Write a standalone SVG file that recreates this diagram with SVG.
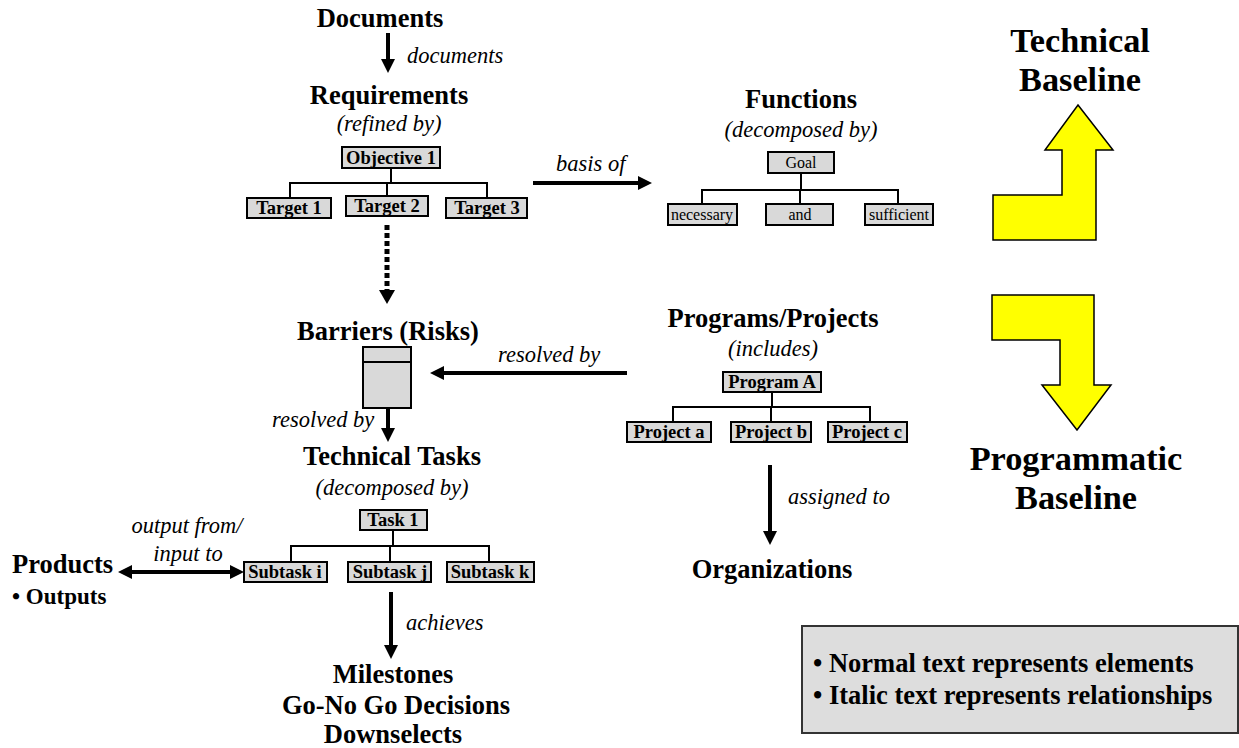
<svg xmlns="http://www.w3.org/2000/svg" width="1239" height="748" viewBox="0 0 1239 748">
<defs>
<style>
.h{font-family:"Liberation Serif","Times New Roman",serif;font-weight:bold;font-size:26.5px;fill:#000}
.big{font-family:"Liberation Serif","Times New Roman",serif;font-weight:bold;font-size:34.3px;fill:#000}
.i{font-family:"Liberation Serif","Times New Roman",serif;font-style:italic;font-size:22.5px;fill:#000}
.bt{font-family:"Liberation Serif","Times New Roman",serif;font-weight:bold;font-size:18.5px;fill:#000}
.rt{font-family:"Liberation Serif","Times New Roman",serif;font-size:16px;fill:#000}
.box{fill:#d9d9d9;stroke:#000;stroke-width:2}
.tree{fill:none;stroke:#000;stroke-width:2}
.arr{fill:none;stroke:#000;stroke-width:4}
.dot{fill:none;stroke:#000;stroke-width:5;stroke-dasharray:5 3}
.yel{fill:#ffff00;stroke:#000;stroke-width:1.5}
</style>
<marker id="ah" viewBox="0 0 10 10" refX="0" refY="5" markerWidth="14" markerHeight="16" markerUnits="userSpaceOnUse" orient="auto-start-reverse">
<path d="M0,0 L10,5 L0,10 Z" fill="#000"/>
</marker>
</defs>

<g id="connectors">
<line class="arr" x1="388" y1="33" x2="388" y2="59" marker-end="url(#ah)"/>
<line class="arr" x1="533" y1="183" x2="638" y2="183" marker-end="url(#ah)"/>
<line class="dot" x1="387" y1="225" x2="387" y2="290" />
<path d="M379,290 L395,290 L387,304 Z" fill="#000"/>
<line class="arr" x1="627" y1="373" x2="444" y2="373" marker-end="url(#ah)"/>
<line class="arr" x1="388" y1="402" x2="388" y2="428" marker-end="url(#ah)"/>
<line class="arr" x1="132" y1="572" x2="230" y2="572" marker-start="url(#ah)" marker-end="url(#ah)"/>
<line class="arr" x1="391" y1="592" x2="391" y2="645" marker-end="url(#ah)"/>
<line class="arr" x1="770" y1="465" x2="770" y2="531" marker-end="url(#ah)"/>
<text class="i" x="407" y="63">documents</text>
<text class="i" x="556" y="171">basis of</text>
<text class="i" x="498" y="362">resolved by</text>
<text class="i" x="272" y="427">resolved by</text>
<text class="i" x="187" y="533" text-anchor="middle">output from/</text>
<text class="i" x="188" y="561" text-anchor="middle">input to</text>
<text class="i" x="406" y="630">achieves</text>
<text class="i" x="788" y="504">assigned to</text>
</g>

<g id="documents"><text class="h" x="380" y="27" text-anchor="middle">Documents</text></g>

<g id="requirements">
<text class="h" x="389" y="104" text-anchor="middle">Requirements</text>
<text class="i" x="389" y="131" text-anchor="middle">(refined by)</text>
<path class="tree" d="M391,168 V183 M290,198 V183 H487 V198 M387,183 V196"/>
<rect class="box" x="342" y="147" width="98" height="21"/>
<text class="bt" x="391" y="164" text-anchor="middle">Objective 1</text>
<rect class="box" x="247" y="198" width="84" height="20"/>
<text class="bt" x="289" y="214" text-anchor="middle">Target 1</text>
<rect class="box" x="346" y="196" width="82" height="20"/>
<text class="bt" x="387" y="212" text-anchor="middle">Target 2</text>
<rect class="box" x="446" y="198" width="81" height="20"/>
<text class="bt" x="487" y="214" text-anchor="middle">Target 3</text>
</g>

<g id="functions">
<text class="h" x="801" y="108" text-anchor="middle">Functions</text>
<text class="i" x="801" y="137" text-anchor="middle">(decomposed by)</text>
<path class="tree" d="M801,173 V190 M702,204 V190 H898 V204 M800,190 V204"/>
<rect class="box" x="768" y="152" width="66" height="21"/>
<text class="rt" x="801" y="168" text-anchor="middle">Goal</text>
<rect class="box" x="668" y="204" width="69" height="21"/>
<text class="rt" x="702" y="220" text-anchor="middle">necessary</text>
<rect class="box" x="766" y="204" width="67" height="21"/>
<text class="rt" x="800" y="220" text-anchor="middle">and</text>
<rect class="box" x="865" y="204" width="68" height="21"/>
<text class="rt" x="899" y="220" text-anchor="middle">sufficient</text>
</g>

<g id="technical-baseline">
<text class="big" x="1080" y="52" text-anchor="middle">Technical</text>
<text class="big" x="1080" y="91" text-anchor="middle">Baseline</text>
<polygon class="yel" points="1078,105 1113,150 1096,150 1096,240 993,240 993,195 1062,195 1062,150 1045,150"/>
</g>

<g id="programmatic-baseline">
<polygon class="yel" points="992,295 1094,295 1094,385 1111,385 1077,430 1042,385 1060,385 1060,340 992,340"/>
<text class="big" x="1076" y="470" text-anchor="middle">Programmatic</text>
<text class="big" x="1076" y="509" text-anchor="middle">Baseline</text>
</g>

<g id="barriers">
<text class="h" x="388" y="340" text-anchor="middle">Barriers (Risks)</text>
<rect class="box" x="363" y="347" width="48" height="61"/>
<line class="tree" x1="363" y1="362" x2="411" y2="362"/>
</g>

<g id="programs">
<text class="h" x="773" y="327" text-anchor="middle">Programs/Projects</text>
<text class="i" x="773" y="356" text-anchor="middle">(includes)</text>
<path class="tree" d="M772,392 V407 M673,422 V407 H870 V422 M771,407 V422"/>
<rect class="box" x="723" y="372" width="98" height="20"/>
<text class="bt" x="772" y="388" text-anchor="middle">Program A</text>
<rect class="box" x="627" y="422" width="84" height="20"/>
<text class="bt" x="669" y="438" text-anchor="middle">Project a</text>
<rect class="box" x="731" y="422" width="80" height="20"/>
<text class="bt" x="771" y="438" text-anchor="middle">Project b</text>
<rect class="box" x="828" y="422" width="79" height="20"/>
<text class="bt" x="867" y="438" text-anchor="middle">Project c</text>
</g>

<g id="technical-tasks">
<text class="h" x="392" y="465" text-anchor="middle">Technical Tasks</text>
<text class="i" x="392" y="495" text-anchor="middle">(decomposed by)</text>
<path class="tree" d="M393,530 V546 M291,562 V546 H489 V562 M390,546 V562"/>
<rect class="box" x="360" y="510" width="67" height="20"/>
<text class="bt" x="393" y="526" text-anchor="middle">Task 1</text>
<rect class="box" x="244" y="562" width="83" height="20"/>
<text class="bt" x="285" y="578" text-anchor="middle">Subtask i</text>
<rect class="box" x="348" y="562" width="83" height="20"/>
<text class="bt" x="390" y="578" text-anchor="middle">Subtask j</text>
<rect class="box" x="447" y="562" width="87" height="20"/>
<text class="bt" x="490" y="578" text-anchor="middle">Subtask k</text>
</g>

<g id="products">
<text class="h" x="12" y="573">Products</text>
<text class="bt" x="12" y="604" style="font-size:23px">• Outputs</text>
</g>

<g id="milestones">
<text class="h" x="393" y="683" text-anchor="middle">Milestones</text>
<text class="h" x="396" y="714" text-anchor="middle">Go-No Go Decisions</text>
<text class="h" x="393" y="743" text-anchor="middle">Downselects</text>
</g>

<g id="organizations"><text class="h" x="772" y="578" text-anchor="middle">Organizations</text></g>

<g id="legend">
<rect x="802" y="626" width="436" height="107" fill="#dddddd" stroke="#333" stroke-width="2"/>
<text class="h" x="813" y="672">• Normal text represents elements</text>
<text class="h" x="813" y="704">• Italic text represents relationships</text>
</g>
</svg>
